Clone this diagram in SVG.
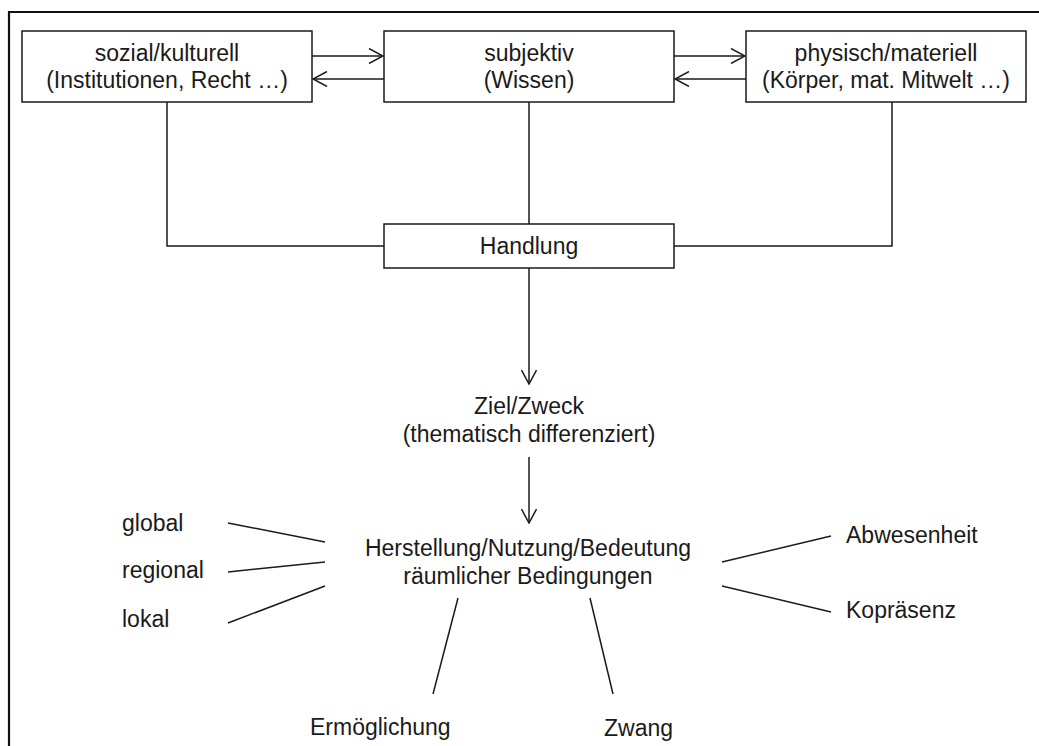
<svg xmlns="http://www.w3.org/2000/svg" width="1039" height="746" viewBox="0 0 1039 746">
<style>
text{font-family:"Liberation Sans",Arial,sans-serif;font-size:23px;fill:#1a1a1a}
.c{text-anchor:middle}
.box{fill:#fff;stroke:#1a1a1a;stroke-width:1.5}
.ln{fill:none;stroke:#1a1a1a;stroke-width:1.5}
</style>
<defs>
<marker id="ah" viewBox="0 0 16 16" refX="15" refY="8" markerWidth="16" markerHeight="16" markerUnits="userSpaceOnUse" orient="auto">
<path d="M1,0.5 L15,8 L1,15.5" fill="none" stroke="#1a1a1a" stroke-width="1.5"/>
</marker>
</defs>
<rect width="1039" height="746" fill="#fff"/>
<path d="M9,746 V12 H1039" fill="none" stroke="#111" stroke-width="2.2"/>
<g id="connectors">
<line class="ln" x1="312" y1="56" x2="383" y2="56" marker-end="url(#ah)"/>
<line class="ln" x1="384" y1="79" x2="313" y2="79" marker-end="url(#ah)"/>
<line class="ln" x1="674" y1="56" x2="745" y2="56" marker-end="url(#ah)"/>
<line class="ln" x1="746" y1="79" x2="675" y2="79" marker-end="url(#ah)"/>
<path class="ln" d="M167,102 V246 H384"/>
<path class="ln" d="M529,102 V224"/>
<path class="ln" d="M892,102 V246 H674"/>
<line class="ln" x1="529" y1="268" x2="529" y2="384" marker-end="url(#ah)"/>
<line class="ln" x1="529" y1="457" x2="529" y2="523" marker-end="url(#ah)"/>
<line class="ln" x1="228" y1="523" x2="325" y2="542"/>
<line class="ln" x1="228" y1="572" x2="325" y2="562"/>
<line class="ln" x1="228" y1="623" x2="325" y2="586"/>
<line class="ln" x1="458" y1="598" x2="433" y2="694"/>
<line class="ln" x1="590" y1="598" x2="613" y2="694"/>
<line class="ln" x1="722" y1="562" x2="831" y2="536"/>
<line class="ln" x1="722" y1="586" x2="831" y2="612"/>
</g>
<g id="sozial">
<rect class="box" x="22" y="31" width="290" height="71"/>
<text class="c" x="167" y="61">sozial/kulturell</text>
<text class="c" x="167" y="88">(Institutionen, Recht …)</text>
</g>
<g id="subjektiv">
<rect class="box" x="384" y="31" width="290" height="71"/>
<text class="c" x="529" y="61">subjektiv</text>
<text class="c" x="529" y="88">(Wissen)</text>
</g>
<g id="physisch">
<rect class="box" x="746" y="31" width="280" height="71"/>
<text class="c" x="886" y="61">physisch/materiell</text>
<text class="c" x="886" y="88">(Körper, mat. Mitwelt …)</text>
</g>
<g id="handlung">
<rect class="box" x="384" y="224" width="290" height="44"/>
<text class="c" x="529" y="254">Handlung</text>
</g>
<g id="ziel">
<text class="c" x="529" y="414">Ziel/Zweck</text>
<text class="c" x="529" y="442">(thematisch differenziert)</text>
</g>
<g id="herstellung">
<text class="c" x="528" y="556">Herstellung/Nutzung/Bedeutung</text>
<text class="c" x="528" y="584">räumlicher Bedingungen</text>
</g>
<g id="global"><text x="122" y="531">global</text></g>
<g id="regional"><text x="122" y="578">regional</text></g>
<g id="lokal"><text x="122" y="627">lokal</text></g>
<g id="ermoeglichung"><text x="310" y="735">Ermöglichung</text></g>
<g id="zwang"><text x="604" y="736">Zwang</text></g>
<g id="abwesenheit"><text x="846" y="543">Abwesenheit</text></g>
<g id="kopraesenz"><text x="846" y="618">Kopräsenz</text></g>
</svg>
